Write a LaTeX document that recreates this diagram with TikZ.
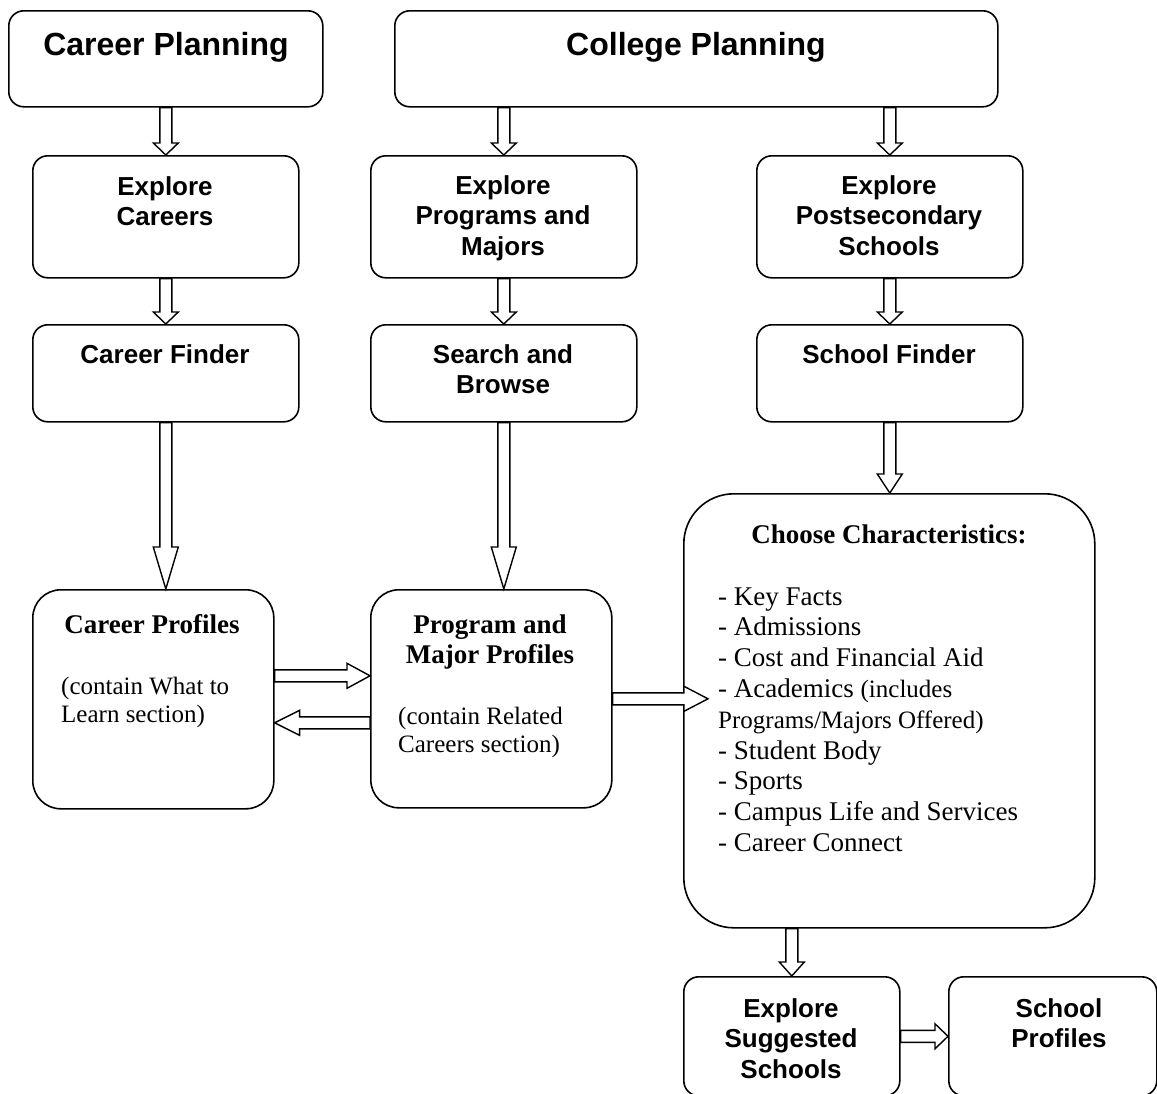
\documentclass[tikz,border=0pt]{standalone}
\usepackage{fontspec}
\setmainfont{Liberation Serif}
\newfontfamily\headsans{Liberation Sans}
\usetikzlibrary{calc}

% hollow block arrow: [head length]{start}{end}
\newcommand\blockarrow[3][12]{%
  \coordinate (ba-s) at (#2);
  \coordinate (ba-e) at (#3);
  \coordinate (ba-h) at ($(ba-e)!#1pt!(ba-s)$);
  \draw[arrowshape]
    ($(ba-s)!6pt!90:(ba-e)$) -- ($(ba-h)!6pt!-90:(ba-s)$)
    -- ($(ba-h)!12.5pt!-90:(ba-s)$) -- (ba-e)
    -- ($(ba-h)!12.5pt!90:(ba-s)$) -- ($(ba-h)!6pt!90:(ba-s)$)
    -- ($(ba-s)!6pt!-90:(ba-e)$) -- cycle;
}

\tikzset{
  box/.style={draw=black, line width=1.6pt, fill=white, inner sep=0pt,
              anchor=north west, rounded corners=15pt},
  arrowshape/.style={draw=black, fill=white, line width=1.4pt, line join=miter},
  sanstext/.style={anchor=base, inner sep=0pt,
                   font=\headsans\bfseries\fontsize{26}{30.5}\selectfont},
  bigsans/.style={anchor=base, inner sep=0pt,
                  font=\headsans\bfseries\fontsize{32}{38}\selectfont},
  serifhead/.style={anchor=base, inner sep=0pt,
                    font=\bfseries\fontsize{27}{30}\selectfont},
  seriftext/.style={anchor=base west, inner sep=0pt,
                    font=\fontsize{25}{28.5}\selectfont},
}

\begin{document}
\begin{tikzpicture}[x=1pt, y=-1pt]
\useasboundingbox[fill=white] (0,0) rectangle (1157,1093);

% ---- boxes ----
\node[box, minimum width=314pt, minimum height=96pt] (cp)  at (8,10)   {};
\node[box, minimum width=603pt, minimum height=96pt] (col) at (394,10) {};
\node[box, minimum width=266pt, minimum height=122pt] (ec)  at (32,155)  {};
\node[box, minimum width=266pt, minimum height=122pt] (ep)  at (370,155) {};
\node[box, minimum width=266pt, minimum height=122pt] (eps) at (756,155) {};
\node[box, minimum width=266pt, minimum height=97pt] (cf) at (32,324)  {};
\node[box, minimum width=266pt, minimum height=97pt] (sb) at (370,324) {};
\node[box, minimum width=266pt, minimum height=97pt] (sf) at (756,324) {};
\node[box, rounded corners=28pt, minimum width=241pt, minimum height=219pt] (cpr) at (32,589) {};
\node[box, rounded corners=28pt, minimum width=241pt, minimum height=218pt] (ppr) at (370,589) {};
\node[box, rounded corners=50pt, minimum width=411pt, minimum height=434pt] (ch) at (683,493) {};
\node[box, minimum width=216pt, minimum height=119pt] (es)  at (683,976) {};
\node[box, minimum width=208pt, minimum height=119pt] (spr) at (948,976) {};

% ---- labels ----
\node[bigsans] (cpt)  at (166,55) {Career Planning};
\node[bigsans] (colt) at (696,55) {College Planning};
\node[sanstext] (ect)  at (165,195) {\begin{tabular}[t]{@{}c@{}}Explore\\Careers\end{tabular}};
\node[sanstext] (ept)  at (503,194) {\begin{tabular}[t]{@{}c@{}}Explore\\Programs and\\Majors\end{tabular}};
\node[sanstext] (epst) at (889,194) {\begin{tabular}[t]{@{}c@{}}Explore\\Postsecondary\\Schools\end{tabular}};
\node[sanstext] (cft) at (165,363) {Career Finder};
\node[sanstext] (sbt) at (503,363) {\begin{tabular}[t]{@{}c@{}}Search and\\Browse\end{tabular}};
\node[sanstext] (sft) at (889,363) {School Finder};

\node[serifhead] (cprh) at (152,633) {Career Profiles};
\node[seriftext] (cprn) at (61,694) {\begin{tabular}[t]{@{}l@{}}(contain What to\\Learn section)\end{tabular}};

\node[serifhead] (pprh) at (490,633) {\begin{tabular}[t]{@{}c@{}}Program and\\Major Profiles\end{tabular}};
\node[seriftext] (pprn) at (398,724) {\begin{tabular}[t]{@{}l@{}}(contain Related\\Careers section)\end{tabular}};

\node[serifhead] (chh) at (889,543) {Choose Characteristics:};
\node[anchor=base west, inner sep=0pt, font=\fontsize{27}{30.8}\selectfont] (chl) at (718,605)
  {\begin{tabular}[t]{@{}l@{}}
   - Key Facts\\
   - Admissions\\
   - Cost and Financial Aid\\
   - Academics {\fontsize{25}{30.8}\selectfont(includes}\\
   {\fontsize{25}{30.8}\selectfont Programs/Majors Offered)}\\
   - Student Body\\
   - Sports\\
   - Campus Life and Services\\
   - Career Connect
   \end{tabular}};

\node[sanstext] (est)  at (791,1017) {\begin{tabular}[t]{@{}c@{}}Explore\\Suggested\\Schools\end{tabular}};
\node[sanstext] (sprt) at (1059,1017) {\begin{tabular}[t]{@{}c@{}}School\\Profiles\end{tabular}};

% ---- connectors ----
\blockarrow{ec.north |- cp.south}{ec.north}
\blockarrow{ep.north |- col.south}{ep.north}
\blockarrow{eps.north |- col.south}{eps.north}
\blockarrow{ec.south}{cf.north}
\blockarrow{ep.south}{sb.north}
\blockarrow{eps.south}{sf.north}
\blockarrow[42]{cf.south}{cf.south |- cpr.north}
\blockarrow[42]{sb.south}{sb.south |- ppr.north}
\blockarrow[19]{sf.south}{sf.south |- ch.north}

\coordinate (rA) at ($(cpr.east)+(0,-23.5)$);
\blockarrow[23]{rA}{rA -| ppr.west}
\coordinate (rB) at ($(ppr.west)+(0,24)$);
\blockarrow[25]{rB}{rB -| cpr.east}
\coordinate (rC) at ($(ppr.east -| ch.west)+(25,0)$);
\blockarrow[24]{ppr.east}{rC}

\blockarrow[14]{es.north |- ch.south}{es.north}
\blockarrow[13]{es.east}{spr.west}
\end{tikzpicture}
\end{document}
